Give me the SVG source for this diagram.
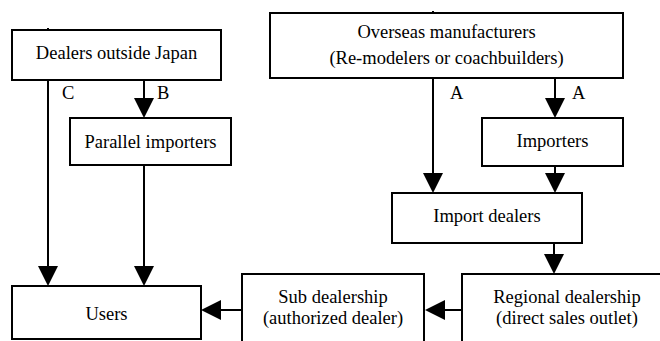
<svg xmlns="http://www.w3.org/2000/svg" width="660" height="341" viewBox="0 0 660 341" font-family="'Liberation Serif', 'Times New Roman', 'DejaVu Serif', serif">
<style>
.box{fill:#fff;stroke:#000;stroke-width:2}
.ln{fill:none;stroke:#000;stroke-width:2}
.arr{marker-end:url(#ah)}
text{font-family:'Liberation Serif','Times New Roman','DejaVu Serif',serif;font-size:18.5px;fill:#000}
.c{text-anchor:middle}
</style>
<defs>
<marker id="ah" viewBox="0 0 20 20" refX="0" refY="10" markerWidth="20" markerHeight="20" markerUnits="userSpaceOnUse" orient="auto">
<path d="M0,0 L20,10 L0,20 z" fill="#000"/>
</marker>
</defs>
<rect width="660" height="341" fill="#fff"/>
<g id="connectors">
<line class="ln arr" x1="48" y1="28" x2="48" y2="266"/>
<line class="ln arr" x1="144" y1="80" x2="144" y2="98"/>
<line class="ln arr" x1="144" y1="165" x2="144" y2="266"/>
<line class="ln arr" x1="433" y1="11" x2="433" y2="173"/>
<line class="ln arr" x1="555" y1="78" x2="555" y2="98"/>
<line class="ln arr" x1="555" y1="166" x2="555" y2="173"/>
<line class="ln arr" x1="554" y1="243" x2="554" y2="254"/>
<line class="ln arr" x1="462" y1="310" x2="445" y2="310"/>
<line class="ln arr" x1="242" y1="310" x2="221" y2="310"/>
<text x="62" y="99">C</text>
<text x="157" y="99">B</text>
<text x="450" y="99">A</text>
<text x="572" y="99">A</text>
</g>
<g id="dealers-outside-japan">
<rect class="box" x="12" y="30" width="209" height="50"/>
<text class="c" x="116.5" y="58.5">Dealers outside Japan</text>
</g>
<g id="parallel-importers">
<rect class="box" x="70" y="118" width="161" height="47"/>
<text class="c" x="150.5" y="147.5">Parallel importers</text>
</g>
<g id="overseas-manufacturers">
<rect class="box" x="270" y="13" width="353" height="65"/>
<text class="c" x="446.5" y="38">Overseas manufacturers</text>
<text class="c" x="446.5" y="64">(Re-modelers or coachbuilders)</text>
</g>
<g id="importers">
<rect class="box" x="482" y="118" width="141" height="48"/>
<text class="c" x="552.5" y="147">Importers</text>
</g>
<g id="import-dealers">
<rect class="box" x="392" y="193" width="190" height="50"/>
<text class="c" x="487" y="222">Import dealers</text>
</g>
<g id="users">
<rect class="box" x="12" y="286" width="189" height="53"/>
<text class="c" x="106.5" y="319.5">Users</text>
</g>
<g id="sub-dealership">
<rect class="box" x="242" y="274" width="182" height="80"/>
<text class="c" x="333" y="302.5">Sub dealership</text>
<text class="c" x="333" y="323.5">(authorized dealer)</text>
</g>
<g id="regional-dealership">
<rect class="box" x="462" y="274" width="210" height="80"/>
<text class="c" x="567" y="302.5">Regional dealership</text>
<text class="c" x="567" y="323.5">(direct sales outlet)</text>
</g>
</svg>
